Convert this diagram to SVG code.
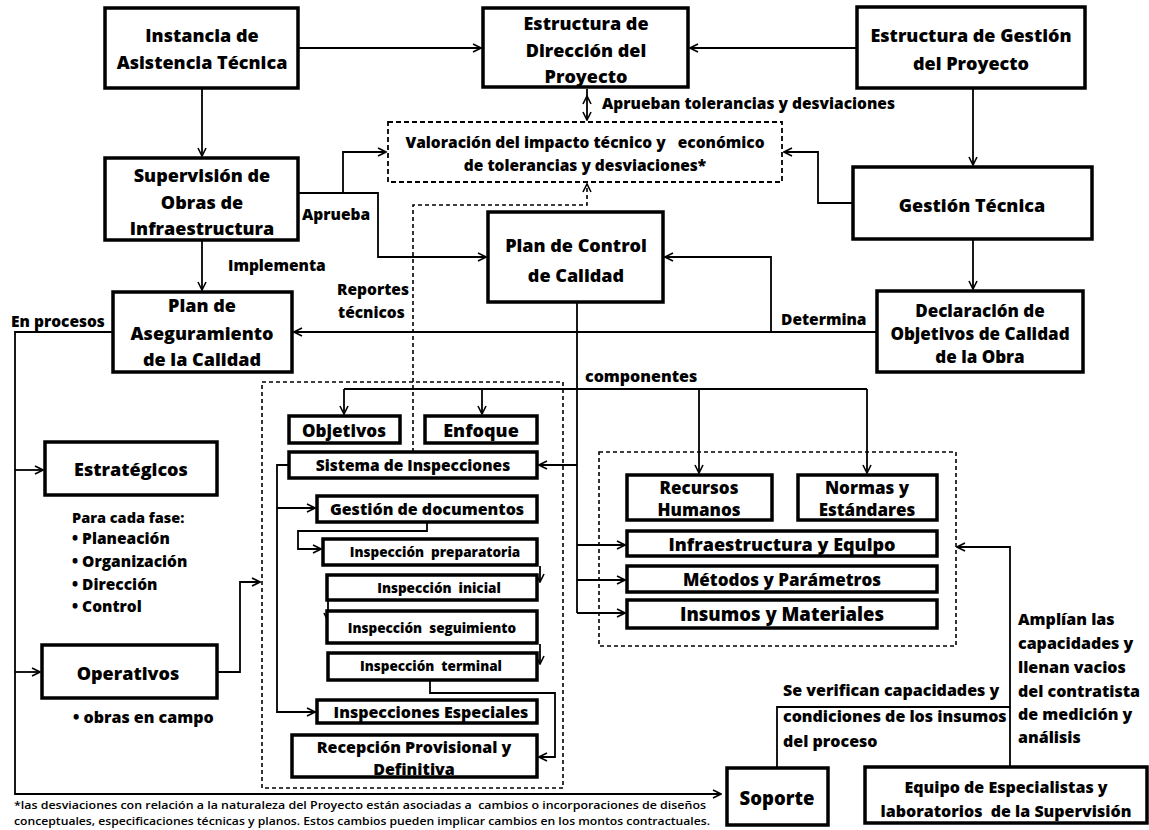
<svg xmlns="http://www.w3.org/2000/svg" width="1149" height="830" viewBox="0 0 1149 830">
<defs>
<marker id="ah" viewBox="0 0 10 10" refX="9" refY="5" markerWidth="10" markerHeight="10" markerUnits="userSpaceOnUse" orient="auto-start-reverse">
<path d="M1,1 L9,5 L1,9" fill="none" stroke="#000" stroke-width="1.6"/>
</marker>
</defs>
<style>
.b{fill:#fff;stroke:#000;stroke-width:3.5}
.d{fill:none;stroke:#000;stroke-width:1.8;stroke-dasharray:5,3}
.c{fill:none;stroke:#000;stroke-width:1.8}
.a{marker-end:url(#ah)}
.cd{fill:none;stroke:#000;stroke-width:1.6;stroke-dasharray:4,3}
text{font-family:"Open Sans",Lato,"Liberation Sans",sans-serif;font-weight:800;fill:#000}
.t{text-anchor:middle;dominant-baseline:central}
.n{font-size:18px}.l{font-size:15.5px}.m{font-size:16px}.s{font-size:13.5px}.k{font-size:17px}.g{font-size:18.5px}
</style>
<rect width="1149" height="830" fill="#fff"/>

<g id="connectors">
<path class="c a" d="M298,48 H481"/>
<path class="c a" d="M857,48 H690"/>
<path class="c a" d="M587,96 V120" style="marker-start:url(#ah)"/>
<path class="c" d="M587,89 V97"/>
<path class="c a" d="M202,88 V156"/>
<path class="c a" d="M973,88 V165"/>
<path class="c a" d="M853,203 H818 V152 H784"/>
<path class="c a" d="M298,193 H343 V152 H386"/>
<path class="c a" d="M343,193 H378 V257 H486"/>
<path class="cd a" d="M413,452 V205 H587 V184"/>
<path class="c a" d="M202,240 V290"/>
<path class="c a" d="M973,239 V289"/>
<path class="c a" d="M877,332 H294"/>
<path class="c a" d="M771,332 V257 H665"/>
<path class="c a" d="M113,332 H15 V794 H721"/>
<path class="c a" d="M15,470 H43"/>
<path class="c a" d="M15,672 H40"/>
<path class="c a" d="M217,672 H240 V582 H260"/>
<path class="c" d="M577,302 V613"/>
<path class="c" d="M344,389 H867"/>
<path class="c a" d="M344,389 V414"/>
<path class="c a" d="M482,389 V414"/>
<path class="c a" d="M699,389 V473"/>
<path class="c a" d="M867,389 V473"/>
<path class="c a" d="M577,465 H539"/>
<path class="c a" d="M577,545 H625"/>
<path class="c a" d="M577,580 H625"/>
<path class="c a" d="M577,613 H625"/>
<path class="c a" d="M289,465 H277 V712 H315"/>
<path class="c a" d="M277,508 H315"/>
<path class="c a" d="M427,522 V531 H298 V549 H321"/>
<path class="c a" d="M540,566 V582"/>
<path class="c a" d="M328,601 V621"/>
<path class="c a" d="M540,644 V664"/>
<path class="c a" d="M430,680 V693 H555 V757 H539"/>
<path class="c a" d="M1010,767 V547 H957"/>
<path class="c" d="M777,768 V707 H1010"/>
</g>

<g id="n-instancia"><rect class="b" x="105" y="8" width="193" height="80"/>
<text class="t n" x="202" y="35">Instancia de</text><text class="t n" x="202" y="62">Asistencia Técnica</text></g>

<g id="n-direccion"><rect class="b" x="483" y="8" width="205" height="79"/>
<text class="t n" x="586" y="23">Estructura de</text><text class="t n" x="586" y="50">Dirección del</text><text class="t n" x="586" y="76">Proyecto</text></g>

<g id="n-gestionproy"><rect class="b" x="857" y="7" width="228" height="81"/>
<text class="t n" x="971" y="35">Estructura de Gestión</text><text class="t n" x="971" y="63">del Proyecto</text></g>

<text class="l" x="602" y="109">Aprueban tolerancias y desviaciones</text>

<g id="n-valoracion"><rect class="d" x="388" y="122" width="394" height="60"/>
<text class="t l" x="585" y="142" xml:space="preserve">Valoración del impacto técnico y   económico</text><text class="t l" x="585" y="165">de tolerancias y desviaciones*</text></g>

<g id="n-supervision"><rect class="b" x="105" y="158" width="193" height="82"/>
<text class="t n" x="202" y="175">Supervisión de</text><text class="t n" x="202" y="202">Obras de</text><text class="t n" x="202" y="228">Infraestructura</text></g>

<g id="n-gestiontec"><rect class="b" x="853" y="167" width="239" height="72"/>
<text class="t n" x="972" y="205">Gestión Técnica</text></g>

<text class="l" x="302" y="220">Aprueba</text>
<text class="l" x="228" y="271">Implementa</text>

<g id="n-plancontrol"><rect class="b" x="488" y="212" width="175" height="90"/>
<text class="t n" x="576" y="245">Plan de Control</text><text class="t n" x="576" y="275">de Calidad</text></g>

<text class="l" x="337" y="295">Reportes</text>
<text class="l" x="338" y="318">técnicos</text>
<text class="l" x="11" y="327">En procesos</text>
<text class="l" x="781" y="325">Determina</text>

<g id="n-planaseg"><rect class="b" x="113" y="292" width="179" height="80"/>
<text class="t n" x="202" y="305">Plan de</text><text class="t n" x="202" y="333">Aseguramiento</text><text class="t n" x="202" y="359">de la Calidad</text></g>

<g id="n-declaracion"><rect class="b" x="877" y="291" width="206" height="81"/>
<text class="t k" x="980" y="310">Declaración de</text><text class="t k" x="980" y="333">Objetivos de Calidad</text><text class="t k" x="980" y="356">de la Obra</text></g>

<text class="m" x="585" y="382">componentes</text>

<g id="g-left-dashed"><rect class="cd" x="262" y="382" width="301" height="406"/></g>
<g id="g-right-dashed"><rect class="cd" x="599" y="452" width="357" height="194"/></g>

<g id="n-estrategicos"><rect class="b" x="45" y="442" width="172" height="53"/>
<text class="t n" x="131" y="469">Estratégicos</text></g>
<text x="72" y="523" style="font-size:14.5px">Para cada fase:</text>
<text class="l" x="72" y="544">• Planeación</text>
<text class="l" x="72" y="567">• Organización</text>
<text class="l" x="72" y="590">• Dirección</text>
<text class="l" x="72" y="612">• Control</text>

<g id="n-operativos"><rect class="b" x="42" y="645" width="175" height="53"/>
<text class="t n" x="128" y="673">Operativos</text></g>
<text class="m" x="73" y="723">• obras en campo</text>

<g id="n-objetivos"><rect class="b" x="289" y="416" width="111" height="27"/>
<text class="t k" x="344" y="430">Objetivos</text></g>
<g id="n-enfoque"><rect class="b" x="425" y="416" width="112" height="27"/>
<text class="t n" x="481" y="430">Enfoque</text></g>
<g id="n-sistema"><rect class="b" x="289" y="452" width="248" height="26"/>
<text class="t l" x="413" y="465">Sistema de Inspecciones</text></g>
<g id="n-gestiondoc"><rect class="b" x="317" y="496" width="220" height="26"/>
<text class="t m" x="427" y="509">Gestión de documentos</text></g>
<g id="n-prep"><rect class="b" x="323" y="539" width="214" height="26"/>
<text class="t s" x="435" y="552" xml:space="preserve">Inspección  preparatoria</text></g>
<g id="n-inicial"><rect class="b" x="327" y="575" width="210" height="25"/>
<text class="t s" x="439" y="588" xml:space="preserve">Inspección  inicial</text></g>
<g id="n-seguimiento"><rect class="b" x="327" y="611" width="210" height="32"/>
<text class="t s" x="432" y="628" xml:space="preserve">Inspección  seguimiento</text></g>
<g id="n-terminal"><rect class="b" x="328" y="653" width="209" height="27"/>
<text class="t s" x="431" y="666" xml:space="preserve">Inspección  terminal</text></g>
<g id="n-especiales"><rect class="b" x="317" y="700" width="220" height="23"/>
<text class="t m" x="431" y="712">Inspecciones Especiales</text></g>
<g id="n-recepcion"><rect class="b" x="292" y="735" width="245" height="42"/>
<text class="t m" x="414" y="747">Recepción Provisional y</text><text class="t m" x="414" y="769">Definitiva</text></g>

<g id="n-recursos"><rect class="b" x="627" y="475" width="145" height="45"/>
<text class="t k" x="699" y="487">Recursos</text><text class="t k" x="699" y="509">Humanos</text></g>
<g id="n-normas"><rect class="b" x="798" y="475" width="139" height="45"/>
<text class="t k" x="867" y="487">Normas y</text><text class="t k" x="867" y="509">Estándares</text></g>
<g id="n-infra"><rect class="b" x="627" y="531" width="310" height="25"/>
<text class="t n" x="782" y="544">Infraestructura y Equipo</text></g>
<g id="n-metodos"><rect class="b" x="627" y="566" width="310" height="26"/>
<text class="t k" x="782" y="579">Métodos y Parámetros</text></g>
<g id="n-insumos"><rect class="b" x="627" y="600" width="310" height="28"/>
<text class="t g" x="782" y="613">Insumos y Materiales</text></g>

<text class="m" x="783" y="696">Se verifican capacidades y</text>
<text class="m" x="783" y="722">condiciones de los insumos</text>
<text class="m" x="783" y="747">del proceso</text>

<text class="m" x="1018" y="625">Amplían las</text>
<text class="m" x="1018" y="649">capacidades y</text>
<text class="m" x="1018" y="673">llenan vacios</text>
<text class="m" x="1018" y="697">del contratista</text>
<text class="m" x="1018" y="720">de medición y</text>
<text class="m" x="1018" y="743">análisis</text>

<g id="n-soporte"><rect class="b" x="727" y="768" width="101" height="57"/>
<text class="t g" x="777" y="797">Soporte</text></g>
<g id="n-equipo"><rect class="b" x="865" y="767" width="282" height="56"/>
<text class="t m" x="1006" y="787">Equipo de Especialistas y</text><text class="t m" x="1006" y="811" xml:space="preserve">laboratorios  de la Supervisión</text></g>

<text x="14" y="809" style="font-size:10.5px;font-weight:600" textLength="692" lengthAdjust="spacingAndGlyphs" xml:space="preserve">*las desviaciones con relación a la naturaleza del Proyecto están asociadas a  cambios o incorporaciones de diseños</text>
<text x="14" y="825" style="font-size:10.5px;font-weight:600" textLength="696" lengthAdjust="spacingAndGlyphs">conceptuales, especificaciones técnicas y planos. Estos cambios pueden implicar cambios en los montos contractuales.</text>
</svg>
